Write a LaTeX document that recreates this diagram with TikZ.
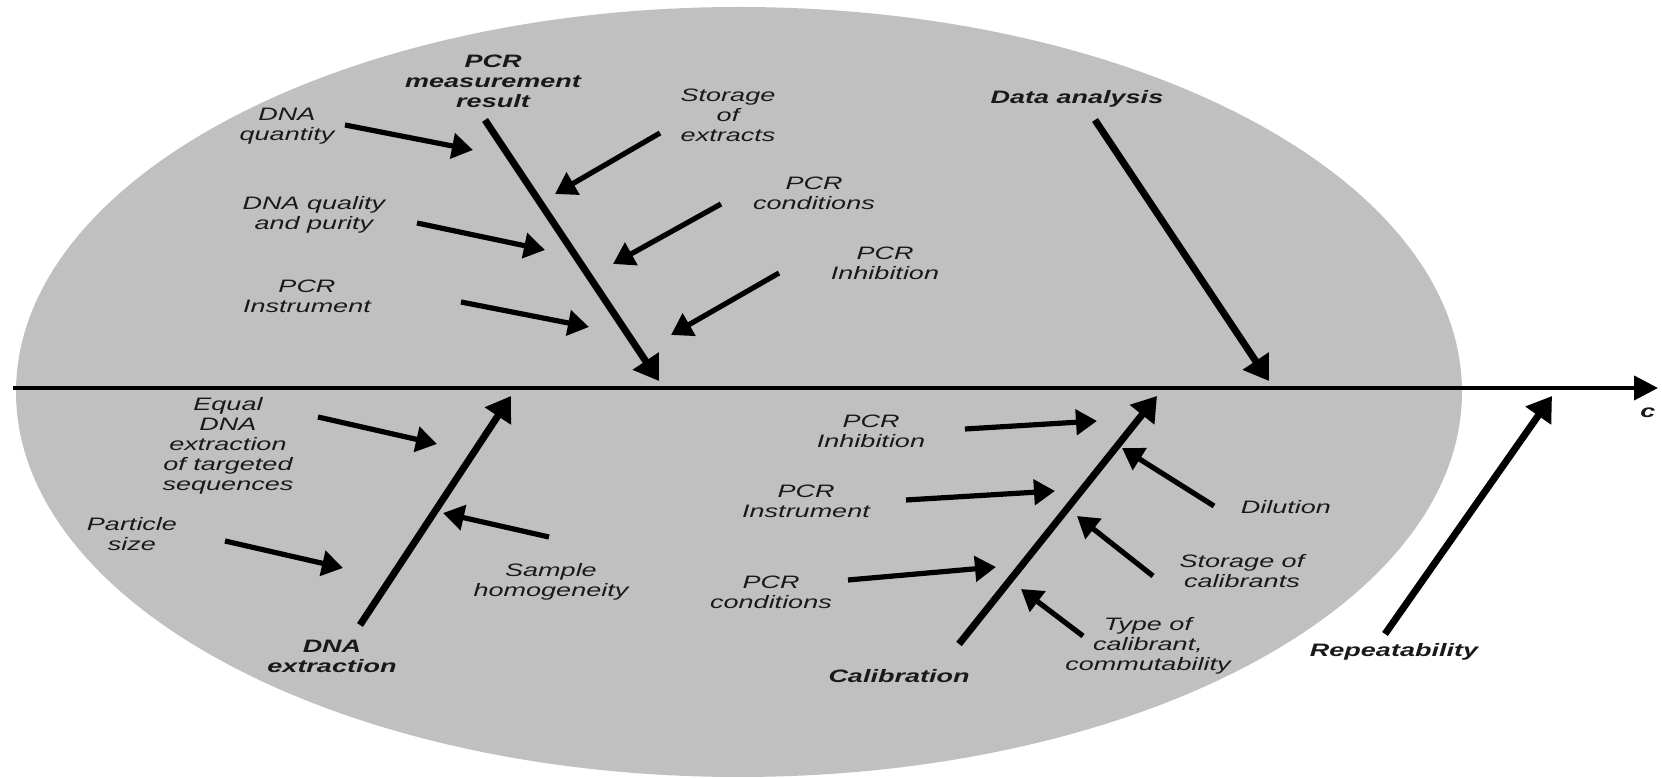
\documentclass[tikz,border=0pt]{standalone}
\usepackage{fontspec}
\setmainfont{Liberation Sans}[FakeStretch=1.5]
\usetikzlibrary{arrows.meta}
\begin{document}
\begin{tikzpicture}[x=0.5pt,y=-0.5pt,
  lbl/.style={font=\fontsize{9}{10}\selectfont\itshape, align=center, inner sep=0pt, text=black!90},
  mainlbl/.style={lbl, font=\fontsize{9}{10}\selectfont\bfseries\itshape},
  axisline/.style={line width=2pt, -{Triangle[length=12pt,width=12pt]}},
  bone/.style={line width=3.5pt, -{Triangle[length=12pt,width=15pt]}},
  sub/.style={line width=2.6pt, -{Triangle[length=10.5pt,width=12.5pt]}}]
\useasboundingbox (0,0) rectangle (1662,779);
\fill[fill={rgb,255:red,192;green,192;blue,192}] (739,392) ellipse [x radius=723, y radius=385];
% axis
\coordinate (a0) at (13,388);
\coordinate (a1) at (1658,388);
\draw[axisline] (a0) -- (a1);
\node[mainlbl, anchor=west] (c) at (1640,413) {c};
% main labels
\node[mainlbl] (pcrm) at (493,81) {PCR\\measurement\\result};
\node[mainlbl] (data) at (1077,99) {Data analysis};
\node[mainlbl] (dnax) at (332,656) {DNA\\extraction};
\node[mainlbl] (cal) at (899,676) {Calibration};
\node[mainlbl] (rep) at (1394,652) {Repeatability};
% main bones
\coordinate (b1s) at (485,120); \coordinate (b1e) at (659,381);
\coordinate (b2s) at (1095,120); \coordinate (b2e) at (1269,381);
\coordinate (b3s) at (360,625); \coordinate (b3e) at (511,396);
\coordinate (b4s) at (959,644); \coordinate (b4e) at (1157,396);
\coordinate (b5s) at (1385,634); \coordinate (b5e) at (1552,396);
\draw[bone] (b1s) -- (b1e);
\draw[bone] (b2s) -- (b2e);
\draw[bone] (b3s) -- (b3e);
\draw[bone] (b4s) -- (b4e);
\draw[bone] (b5s) -- (b5e);
% top-left sub labels
\node[lbl] (dnaq) at (287,126) {DNA\\quantity};
\node[lbl] (dnap) at (314,215) {DNA quality\\and purity};
\node[lbl] (pcri1) at (307,296) {PCR\\Instrument};
\node[lbl] (stx) at (728,115) {Storage\\of\\extracts};
\node[lbl] (pcrc1) at (814,193) {PCR\\conditions};
\node[lbl] (pcrh1) at (885,263) {PCR\\Inhibition};
\coordinate (s1s) at (345,125); \coordinate (s1e) at (473,150);
\coordinate (s2s) at (417,223); \coordinate (s2e) at (545,250);
\coordinate (s3s) at (461,302); \coordinate (s3e) at (589,327);
\coordinate (s4s) at (660,133); \coordinate (s4e) at (555,194);
\coordinate (s5s) at (721,204); \coordinate (s5e) at (613,264);
\coordinate (s6s) at (779,273); \coordinate (s6e) at (671,335);
\draw[sub] (s1s) -- (s1e);
\draw[sub] (s2s) -- (s2e);
\draw[sub] (s3s) -- (s3e);
\draw[sub] (s4s) -- (s4e);
\draw[sub] (s5s) -- (s5e);
\draw[sub] (s6s) -- (s6e);
% bottom-left
\node[lbl] (equal) at (228,446) {Equal\\DNA\\extraction\\of targeted\\sequences};
\node[lbl] (part) at (132,534) {Particle\\size};
\node[lbl] (samp) at (551,582) {Sample\\homogeneity};
\coordinate (t1s) at (318,417); \coordinate (t1e) at (437,444);
\coordinate (t2s) at (225,541); \coordinate (t2e) at (343,568);
\coordinate (t3s) at (549,537); \coordinate (t3e) at (443,513);
\draw[sub] (t1s) -- (t1e);
\draw[sub] (t2s) -- (t2e);
\draw[sub] (t3s) -- (t3e);
% bottom-right
\node[lbl] (pcrh2) at (871,431) {PCR\\Inhibition};
\node[lbl] (pcri2) at (806,501) {PCR\\Instrument};
\node[lbl] (pcrc2) at (771,592) {PCR\\conditions};
\node[lbl] (dil) at (1286,507) {Dilution};
\node[lbl] (stc) at (1242,571) {Storage of\\calibrants};
\node[lbl] (typ) at (1148,646) {Type of\\calibrant,\\commutability};
\coordinate (u1s) at (965,429); \coordinate (u1e) at (1097,421);
\coordinate (u2s) at (906,500); \coordinate (u2e) at (1055,491);
\coordinate (u3s) at (848,580); \coordinate (u3e) at (996,567);
\coordinate (u4s) at (1214,506); \coordinate (u4e) at (1122,448);
\coordinate (u5s) at (1153,576); \coordinate (u5e) at (1077,516);
\coordinate (u6s) at (1083,636); \coordinate (u6e) at (1021,589);
\draw[sub] (u1s) -- (u1e);
\draw[sub] (u2s) -- (u2e);
\draw[sub] (u3s) -- (u3e);
\draw[sub] (u4s) -- (u4e);
\draw[sub] (u5s) -- (u5e);
\draw[sub] (u6s) -- (u6e);
\end{tikzpicture}
\end{document}
